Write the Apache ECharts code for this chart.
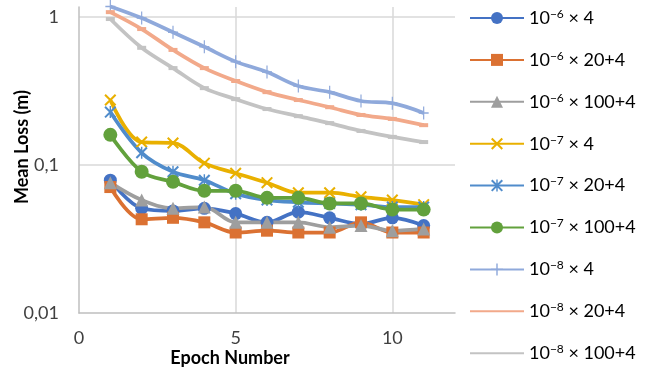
<!DOCTYPE html>
<html><head><meta charset="utf-8">
<script src="https://cdn.jsdelivr.net/npm/echarts@6/dist/echarts.min.js"></script>
<style>html,body{margin:0;padding:0;background:#fff}#c{width:657px;height:375px}</style>
</head><body><div id="c"></div>
<script>
const epochs = [1,2,3,4,5,6,7,8,9,10,11];
const exps = ['−6','−6','−6','−7','−7','−7','−8','−8','−8'];
const factors = ['4','20+4','100+4','4','20+4','100+4','4','20+4','100+4'];
const names = exps.map((e,i)=>'10^'+e+' × '+factors[i]);
const s1 = [0.079,0.051,0.049,0.051,0.047,0.041,0.048,0.044,0.040,0.044,0.039];
const s2 = [0.071,0.043,0.044,0.041,0.035,0.036,0.035,0.035,0.041,0.035,0.035];
const s3 = [0.076,0.058,0.051,0.052,0.041,0.041,0.041,0.038,0.039,0.036,0.037];
const s4 = [0.275,0.143,0.141,0.103,0.088,0.076,0.065,0.065,0.061,0.058,0.054];
const s5 = [0.228,0.121,0.090,0.079,0.064,0.058,0.056,0.055,0.054,0.052,0.052];
const s6 = [0.160,0.090,0.077,0.067,0.067,0.060,0.060,0.055,0.055,0.050,0.050];
const s7 = [1.18,0.985,0.79,0.63,0.50,0.425,0.342,0.311,0.271,0.262,0.225];
const s8 = [1.08,0.83,0.60,0.452,0.37,0.311,0.275,0.246,0.218,0.205,0.186];
const s9 = [0.97,0.62,0.452,0.331,0.279,0.239,0.214,0.192,0.170,0.155,0.143];
const xTicks = [0,5,10];
const yTicks = [0.01,0.1,1];

const allData = [s1,s2,s3,s4,s5,s6,s7,s8,s9];
const colors = ['#4472C4','#DB7132','#9E9E9E','#E9B000','#508CCB','#62A13C','#8FA9DB','#F2A98A','#C3C3C3'];
const xPath = 'path://M0,1.2 L1.2,0 L10,8.8 L8.8,10 Z M8.8,0 L10,1.2 L1.2,10 L0,8.8 Z';
const starPath = 'path://M0,1.2 L1.2,0 L10,8.8 L8.8,10 Z M8.8,0 L10,1.2 L1.2,10 L0,8.8 Z M4.4,0 L5.6,0 L5.6,10 L4.4,10 Z';
const plusPath = 'path://M4.4,0 L5.6,0 L5.6,10 L4.4,10 Z M0,4.4 L10,4.4 L10,5.6 L0,5.6 Z';
const symbols = ['circle','rect','triangle',xPath,starPath,'circle',plusPath,'rect','rect'];
const sizes = [13,12,13,12,12,14,[10,13],[9,4],[9,4]];
const FONT = 'Lato';

const chart = echarts.init(document.getElementById('c'));
chart.setOption({
  animation:false,
  color: colors,
  textStyle:{fontFamily:FONT},
  grid:{left:79, top:7, right:202, bottom:62, containLabel:false},
  xAxis:{
    type:'value', min:0, max:12, interval:5,
    axisLine:{show:true, lineStyle:{color:'#BFBFBF', width:1.5}},
    axisTick:{show:false},
    axisLabel:{fontSize:18, color:'#404040', margin:16, fontFamily:FONT, showMaxLabel:false,
      formatter:v=> xTicks.indexOf(v)>=0 ? String(v) : ''},
    splitLine:{show:true, showMinLine:false, showMaxLine:false, lineStyle:{color:'#D9D9D9', width:1.5}}
  },
  yAxis:{
    type:'log', logBase:10, min:0.01, max:1.17,
    axisLine:{show:true, lineStyle:{color:'#BFBFBF', width:1.5}},
    axisTick:{show:false},
    axisLabel:{fontSize:18, color:'#404040', margin:20, fontFamily:FONT, showMaxLabel:false,
      formatter:v=>{ const m = yTicks.find(t=>Math.abs(t-v)/t<1e-6); return m!==undefined ? String(m).replace('.',',') : ''; }},
    splitLine:{show:true, showMinLine:false, showMaxLine:false, lineStyle:{color:'#D9D9D9', width:1.5}}
  },
  graphic:[{
    type:'text', x:22, y:147, rotation:Math.PI/2,
    style:{text:'Mean Loss (m)', font:'bold 18px '+FONT, fill:'#000', textAlign:'center', textVerticalAlign:'middle'}
  },{
    type:'text', x:230, y:358,
    style:{text:'Epoch Number', font:'bold 18px '+FONT, fill:'#000', textAlign:'center', textVerticalAlign:'middle'}
  }],
  legend:{
    orient:'vertical', left:469, top:8, padding:0, itemWidth:54, itemHeight:15, itemGap:21.9,
    data:names.map((n,i)=> i>=7 ? {name:n, itemStyle:{opacity:0}} : {name:n}),
    formatter:name=>{ const i = names.indexOf(name); return '10{sup|'+exps[i]+'} × '+factors[i]; },
    textStyle:{fontSize:18, color:'#000', fontFamily:FONT, lineHeight:20, padding:[0,0,0,0],
      rich:{sup:{fontSize:12, lineHeight:12, verticalAlign:'top', fontFamily:FONT, color:'#000'}}}
  },
  series: allData.map((d,i)=>({
    name:names[i], type:'line', smooth:0.35, clip:false,
    data: epochs.map((e,j)=>[e,d[j]]),
    symbol:symbols[i], symbolSize:sizes[i], showSymbol:true,
    lineStyle:{width:3.75, color:colors[i]},
    itemStyle:{color:colors[i]}
  }))
});
</script></body></html>
